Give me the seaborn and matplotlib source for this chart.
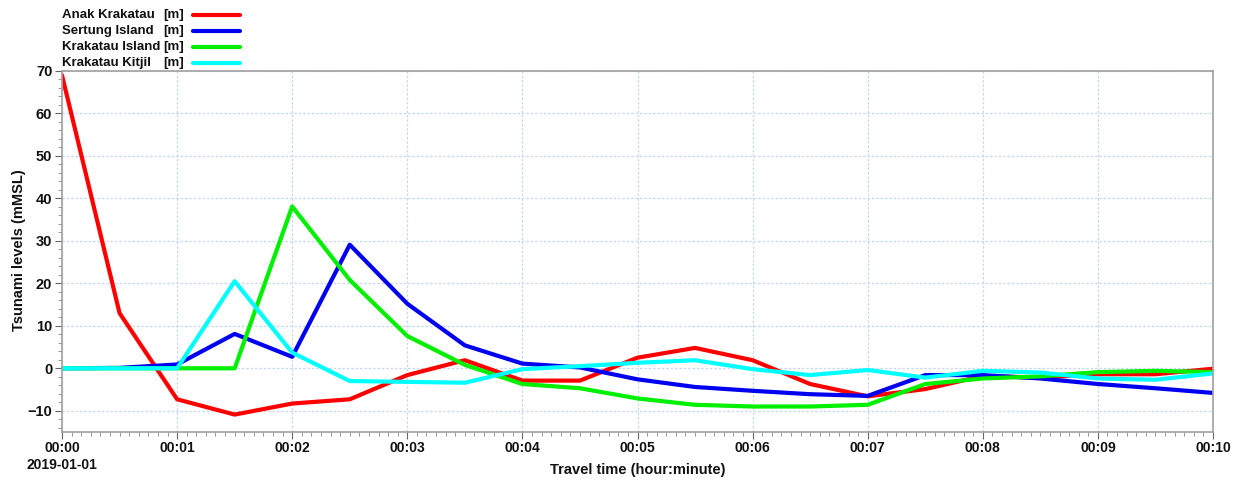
import numpy as np
import pandas as pd
import seaborn as sns
import matplotlib
matplotlib.use("Agg")
import matplotlib.pyplot as plt
from matplotlib.ticker import MultipleLocator, FixedLocator
from matplotlib.lines import Line2D

# ---- data (minutes after 2019-01-01 00:00, 30 s steps) ----
time_min = [0.0, 0.5, 1.0, 1.5, 2.0, 2.5, 3.0, 3.5, 4.0, 4.5, 5.0,
            5.5, 6.0, 6.5, 7.0, 7.5, 8.0, 8.5, 9.0, 9.5, 10.0]
anak_krakatau = [69.0, 13.0, -7.3, -10.9, -8.3, -7.3, -1.6, 1.9, -2.9, -2.9, 2.5,
                 4.8, 1.9, -3.7, -6.6, -4.9, -1.8, -2.2, -1.4, -1.4, -0.1]
sertung_island = [0.0, 0.1, 0.9, 8.1, 2.7, 29.1, 15.2, 5.4, 1.1, 0.2, -2.6,
                  -4.4, -5.3, -6.1, -6.5, -1.6, -1.6, -2.4, -3.7, -4.7, -5.8]
krakatau_island = [0.0, 0.0, 0.0, 0.0, 38.1, 20.8, 7.6, 0.8, -3.7, -4.7, -7.1,
                   -8.6, -9.0, -9.0, -8.6, -3.7, -2.4, -1.9, -0.9, -0.6, -0.9]
krakatau_kitjil = [0.0, 0.0, 0.0, 20.5, 3.7, -3.0, -3.2, -3.4, -0.2, 0.5, 1.3,
                   1.9, -0.2, -1.6, -0.4, -2.2, -0.6, -1.0, -2.4, -2.7, -1.2]

series_names = ["Anak Krakatau", "Sertung Island", "Krakatau Island", "Krakatau Kitjil"]
series_units = ["[m]", "[m]", "[m]", "[m]"]
series_colors = ["#FF0000", "#0000F0", "#00F000", "#00FFFF"]
x_tick_labels = ["00:00\n2019-01-01", "00:01", "00:02", "00:03", "00:04", "00:05",
                 "00:06", "00:07", "00:08", "00:09", "00:10"]

df = pd.DataFrame({
    "time": time_min * 4,
    "value": anak_krakatau + sertung_island + krakatau_island + krakatau_kitjil,
    "series": sum([[n] * len(time_min) for n in series_names], []),
})

sns.set_theme(style="white")
plt.rcParams["font.family"] = ["Liberation Sans", "DejaVu Sans"]
plt.rcParams["font.weight"] = "bold"

fig = plt.figure(figsize=(12.42, 4.84), dpi=100)
ax = fig.add_axes([62 / 1242, 1 - 432 / 484, (1213 - 62) / 1242, (432 - 71) / 484])

sns.lineplot(data=df, x="time", y="value", hue="series", hue_order=series_names,
             palette=series_colors, linewidth=3.0, ax=ax, legend=False,
             estimator=None, sort=False)

ax.set_xlim(0, 10)
ax.set_ylim(-15, 70)
ax.xaxis.set_major_locator(FixedLocator(range(11)))
ax.set_xticklabels(x_tick_labels, fontsize=10, fontweight="bold", color="#111111",
                   linespacing=1.25)
ax.xaxis.set_minor_locator(MultipleLocator(1 / 12))
ax.yaxis.set_major_locator(MultipleLocator(10))
ax.yaxis.set_minor_locator(MultipleLocator(2))
for lab in ax.get_yticklabels():
    lab.set_fontweight("bold")
ax.tick_params(axis="both", which="major", direction="out", length=5, width=0.8,
               color="#666666", labelsize=10.5, labelcolor="#111111")
ax.tick_params(axis="y", which="major", pad=2)
ax.tick_params(axis="x", which="major", labelsize=10, pad=1.5)
ax.tick_params(axis="both", which="minor", direction="out", length=3, width=0.6,
               color="#888888")
ax.tick_params(axis="both", which="both", bottom=True, left=True, top=False, right=False)

ax.grid(True, which="major", color="#C4D8F0", linestyle=(0, (2, 1.5)), linewidth=0.9)
ax.set_axisbelow(True)
for s in ax.spines.values():
    s.set_color("#A0A0A0")
    s.set_linewidth(1.2)

ax.set_xlabel("Travel time (hour:minute)", fontsize=10.5, fontweight="bold", color="#111111")
ax.set_ylabel("Tsunami levels (mMSL)", fontsize=10.5, fontweight="bold", color="#111111")
ax.xaxis.set_label_coords(0.5, (432 - 470) / 361)
ax.yaxis.set_label_coords((19 - 62) / 1151, (432 - 250) / 361)
ax.xaxis.label.set_va("center")
ax.yaxis.label.set_va("center")

# ---- legend (top-left, outside the axes) ----
row_y = [15, 31, 47, 63]
for name, unit, col, yy in zip(series_names, series_units, series_colors, row_y):
    fy = 1 - yy / 484
    fig.text(62 / 1242, fy, name, fontsize=9.5, fontweight="bold", va="center", ha="left",
             color="#111111")
    fig.text(163 / 1242, fy, unit, fontsize=9.5, fontweight="bold", va="center", ha="left",
             color="#111111")
    fig.add_artist(Line2D([193 / 1242, 240 / 1242], [fy, fy], color=col, linewidth=3.0,
                          solid_capstyle="round", transform=fig.transFigure))

fig.savefig("out.png", dpi=100)
